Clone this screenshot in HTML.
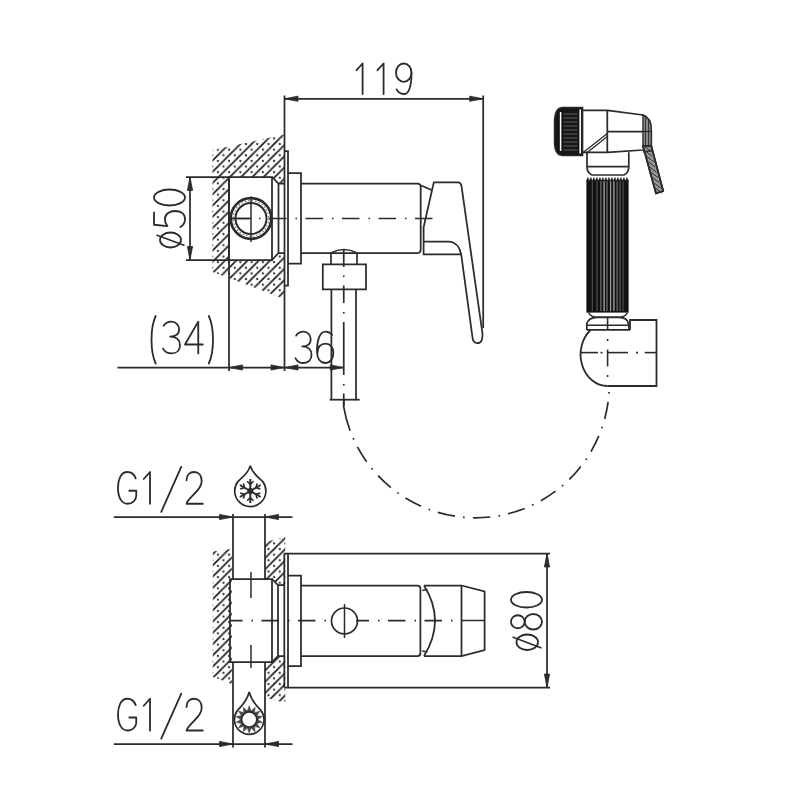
<!DOCTYPE html>
<html><head><meta charset="utf-8"><style>
html,body{margin:0;padding:0;background:#fff;width:800px;height:800px;overflow:hidden;font-family:"Liberation Sans",sans-serif;}
svg{display:block}
</style></head><body>
<svg width="800" height="800" viewBox="0 0 800 800">
<rect width="800" height="800" fill="#fff"/>

<defs>
 <pattern id="hl" patternUnits="userSpaceOnUse" width="11.25" height="11.25" patternTransform="translate(9.75,9)">
   <path d="M-1,6.625 L6.625,-1 M4.625,12.25 L12.25,4.625" stroke="#222" stroke-width="1.8"/>
 </pattern>
 <pattern id="dt" patternUnits="userSpaceOnUse" width="11.25" height="11.25" patternTransform="translate(9.75,9)">
   <circle cx="0" cy="0" r="1.15" fill="#3a3a3a"/>
   <circle cx="11.25" cy="0" r="1.15" fill="#3a3a3a"/>
   <circle cx="0" cy="11.25" r="1.15" fill="#3a3a3a"/>
   <circle cx="11.25" cy="11.25" r="1.15" fill="#3a3a3a"/>
   <circle cx="5.625" cy="5.625" r="1.15" fill="#3a3a3a"/>
 </pattern>
</defs>

<clipPath id="c1"><path d="M212.50,150.00 L284.50,134.50 L284.50,183.50 L278.50,183.50 L272.00,177.00 L229.00,177.00 L229.00,260.00 L272.00,260.00 L278.50,253.00 L284.50,253.00 L284.50,299.00 L212.50,272.00 Z" clip-rule="evenodd"/></clipPath>
<g clip-path="url(#c1)"><rect x="0" y="0" width="800" height="800" fill="url(#hl)"/><rect x="0" y="0" width="800" height="800" fill="url(#dt)"/></g>
<line x1="284.5" y1="95.5" x2="284.5" y2="371" stroke="#2b2b2b" stroke-width="1.75" />
<line x1="483.2" y1="95.5" x2="483.2" y2="328" stroke="#2b2b2b" stroke-width="1.75" />
<line x1="284.5" y1="98.75" x2="483.2" y2="98.75" stroke="#2b2b2b" stroke-width="1.75" />
<path d="M284.50,98.75 L298.00,96.15 L298.00,101.35 Z" fill="#2b2b2b" stroke="#2b2b2b" stroke-width="0.8"/>
<path d="M483.20,98.75 L469.70,96.15 L469.70,101.35 Z" fill="#2b2b2b" stroke="#2b2b2b" stroke-width="0.8"/>
<path d="M229.00,177.00 L272.00,177.00 L272.00,260.00 L229.00,260.00 Z" stroke="#2b2b2b" stroke-width="1.75" fill="none" />
<path d="M272.00,177.00 L278.50,183.50 L284.50,183.50" stroke="#2b2b2b" stroke-width="1.75" fill="none" />
<path d="M272.00,260.00 L278.50,253.00 L284.50,253.00" stroke="#2b2b2b" stroke-width="1.75" fill="none" />
<line x1="278.5" y1="183.5" x2="278.5" y2="253" stroke="#2b2b2b" stroke-width="1.75" />
<line x1="229" y1="177" x2="229" y2="371" stroke="#2b2b2b" stroke-width="1.75" />
<line x1="186" y1="177" x2="229" y2="177" stroke="#2b2b2b" stroke-width="1.75" />
<line x1="186" y1="260" x2="229" y2="260" stroke="#2b2b2b" stroke-width="1.75" />
<line x1="190" y1="177" x2="190" y2="260" stroke="#2b2b2b" stroke-width="1.75" />
<path d="M190.00,177.00 L187.40,190.50 L192.60,190.50 Z" fill="#2b2b2b" stroke="#2b2b2b" stroke-width="0.8"/>
<path d="M190.00,260.00 L187.40,246.50 L192.60,246.50 Z" fill="#2b2b2b" stroke="#2b2b2b" stroke-width="0.8"/>
<path d="M284.50,151.00 L288.00,151.00 L288.00,285.50 L284.50,285.50" stroke="#2b2b2b" stroke-width="1.75" fill="none" />
<path d="M288.00,173.00 L301.00,173.00 L301.00,263.50 L288.00,263.50" stroke="#2b2b2b" stroke-width="1.75" fill="none" />
<path d="M301,183.5 L417.5,183.5 Q420.7,183.5 420.7,186.7 L420.7,249.8 Q420.7,253 417.5,253 L301,253" stroke="#2b2b2b" stroke-width="1.75" fill="none" />
<path d="M421.2,185.5 L431.5,190" stroke="#2b2b2b" stroke-width="1.75" fill="none" />
<path d="M433.8,182.4 L457.8,182.4 Q460.8,182.4 461.4,185.5 L482.4,333 Q483.2,343 477.5,343.2 Q472.8,343.2 472.3,336 L461.2,254.4 L423.6,254.4 L423.6,227.4 L433.8,182.4 Z" stroke="#2b2b2b" stroke-width="1.75" fill="none" />
<path d="M424,241.5 L448.5,241.5 Q458.5,242 461.2,254.4" stroke="#2b2b2b" stroke-width="1.75" fill="none" />
<circle cx="251" cy="218.5" r="20.3" stroke="#2b2b2b" stroke-width="2.7" fill="none"/>
<circle cx="251" cy="218.5" r="17.8" stroke="#666" stroke-width="1.1" fill="none" stroke-dasharray="1.5 2"/>
<circle cx="251" cy="218.5" r="15.5" stroke="#2b2b2b" stroke-width="2.0" fill="none"/>
<line x1="251" y1="196.5" x2="251" y2="242" stroke="#2b2b2b" stroke-width="1.5" />
<line x1="229" y1="218.5" x2="251" y2="218.5" stroke="#2b2b2b" stroke-width="1.5" />
<path d="M232.5,218.5 L434,218.5" stroke="#2b2b2b" stroke-width="1.7" fill="none" stroke-dasharray="17.5 9 1.5 8.5"/>
<path d="M331,253 L331,264.4 M357,253 L357,264.4" stroke="#2b2b2b" stroke-width="1.7" fill="none" />
<path d="M331,253 Q344,246 357,253" stroke="#2b2b2b" stroke-width="1.7" fill="none" />
<path d="M322.80,264.40 L366.00,264.40 L366.00,289.40 L322.80,289.40 Z" stroke="#2b2b2b" stroke-width="1.75" fill="none" />
<line x1="331.4" y1="289.4" x2="331.4" y2="399.7" stroke="#2b2b2b" stroke-width="1.75" />
<line x1="356" y1="289.4" x2="356" y2="399.7" stroke="#2b2b2b" stroke-width="1.75" />
<line x1="329.7" y1="399.7" x2="359.7" y2="399.7" stroke="#2b2b2b" stroke-width="1.75" />
<line x1="343.75" y1="249" x2="343.75" y2="267" stroke="#2b2b2b" stroke-width="1.7" />
<line x1="343.75" y1="275.5" x2="343.75" y2="277" stroke="#2b2b2b" stroke-width="1.7" />
<line x1="343.75" y1="285.5" x2="343.75" y2="303" stroke="#2b2b2b" stroke-width="1.7" />
<line x1="343.75" y1="312" x2="343.75" y2="313.5" stroke="#2b2b2b" stroke-width="1.7" />
<line x1="343.75" y1="322" x2="343.75" y2="375" stroke="#2b2b2b" stroke-width="1.7" />
<line x1="343.75" y1="384" x2="343.75" y2="385.5" stroke="#2b2b2b" stroke-width="1.7" />
<line x1="343.75" y1="393.5" x2="343.75" y2="406" stroke="#2b2b2b" stroke-width="1.7" />
<line x1="117.5" y1="367.5" x2="343.75" y2="367.5" stroke="#2b2b2b" stroke-width="1.75" />
<path d="M229.00,367.50 L242.50,364.90 L242.50,370.10 Z" fill="#2b2b2b" stroke="#2b2b2b" stroke-width="0.8"/>
<path d="M284.50,367.50 L271.00,364.90 L271.00,370.10 Z" fill="#2b2b2b" stroke="#2b2b2b" stroke-width="0.8"/>
<path d="M284.50,367.50 L298.00,364.90 L298.00,370.10 Z" fill="#2b2b2b" stroke="#2b2b2b" stroke-width="0.8"/>
<path d="M343.75,367.50 L330.25,364.90 L330.25,370.10 Z" fill="#2b2b2b" stroke="#2b2b2b" stroke-width="0.8"/>
<path d="M343.46,405.62 A133.8,133.8 0 0 0 350.12,430.71" stroke="#2b2b2b" stroke-width="1.7" fill="none" />
<path d="M353.13,438.12 A133.8,133.8 0 0 0 353.79,439.58" stroke="#2b2b2b" stroke-width="1.7" fill="none" />
<path d="M357.42,446.93 A133.8,133.8 0 0 0 366.64,461.79" stroke="#2b2b2b" stroke-width="1.7" fill="none" />
<path d="M371.61,468.31 A133.8,133.8 0 0 0 372.62,469.55" stroke="#2b2b2b" stroke-width="1.7" fill="none" />
<path d="M378.06,475.69 A133.8,133.8 0 0 0 390.85,487.62" stroke="#2b2b2b" stroke-width="1.7" fill="none" />
<path d="M397.35,492.61 A133.8,133.8 0 0 0 398.66,493.53" stroke="#2b2b2b" stroke-width="1.7" fill="none" />
<path d="M405.51,498.03 A133.8,133.8 0 0 0 420.98,506.19" stroke="#2b2b2b" stroke-width="1.7" fill="none" />
<path d="M428.57,509.30 A133.8,133.8 0 0 0 430.07,509.85" stroke="#2b2b2b" stroke-width="1.7" fill="none" />
<path d="M437.86,512.40 A133.8,133.8 0 0 0 454.93,516.21" stroke="#2b2b2b" stroke-width="1.7" fill="none" />
<path d="M463.06,517.22 A133.8,133.8 0 0 0 464.66,517.36" stroke="#2b2b2b" stroke-width="1.7" fill="none" />
<path d="M472.85,517.77 A133.8,133.8 0 0 0 490.31,516.98" stroke="#2b2b2b" stroke-width="1.7" fill="none" />
<path d="M498.43,515.82 A133.8,133.8 0 0 0 500.01,515.54" stroke="#2b2b2b" stroke-width="1.7" fill="none" />
<path d="M508.02,513.79 A133.8,133.8 0 0 0 524.67,508.44" stroke="#2b2b2b" stroke-width="1.7" fill="none" />
<path d="M532.19,505.19 A133.8,133.8 0 0 0 533.64,504.51" stroke="#2b2b2b" stroke-width="1.7" fill="none" />
<path d="M540.91,500.72 A133.8,133.8 0 0 0 555.58,491.19" stroke="#2b2b2b" stroke-width="1.7" fill="none" />
<path d="M561.99,486.09 A133.8,133.8 0 0 0 563.21,485.05" stroke="#2b2b2b" stroke-width="1.7" fill="none" />
<path d="M569.23,479.48 A133.8,133.8 0 0 0 580.88,466.44" stroke="#2b2b2b" stroke-width="1.7" fill="none" />
<path d="M585.73,459.84 A133.8,133.8 0 0 0 586.63,458.51" stroke="#2b2b2b" stroke-width="1.7" fill="none" />
<path d="M590.99,451.57 A133.8,133.8 0 0 0 598.81,435.93" stroke="#2b2b2b" stroke-width="1.7" fill="none" />
<path d="M601.76,428.28 A133.8,133.8 0 0 0 602.28,426.76" stroke="#2b2b2b" stroke-width="1.7" fill="none" />
<path d="M604.66,418.92 A133.8,133.8 0 0 0 608.11,401.77" stroke="#2b2b2b" stroke-width="1.7" fill="none" />
<path d="M608.95,393.62 A133.8,133.8 0 0 0 609.06,392.02" stroke="#2b2b2b" stroke-width="1.7" fill="none" />
<line x1="343.75" y1="399.7" x2="343.75" y2="406" stroke="#2b2b2b" stroke-width="1.7" />
<path d="M582.6,107.5 L562,107.5 Q555,108 554.5,120 L554.5,143 Q555,155 562,155.4 L582.6,155.4 Z" stroke="#2b2b2b" stroke-width="1.5" fill="#161616" />
<line x1="563.5" y1="114.0" x2="577.5" y2="114.0" stroke="#6a6a6a" stroke-width="0.9" />
<line x1="563.5" y1="118.0" x2="577.5" y2="118.0" stroke="#6a6a6a" stroke-width="0.9" />
<line x1="563.5" y1="122.0" x2="577.5" y2="122.0" stroke="#6a6a6a" stroke-width="0.9" />
<line x1="563.5" y1="126.0" x2="577.5" y2="126.0" stroke="#6a6a6a" stroke-width="0.9" />
<line x1="563.5" y1="130.0" x2="577.5" y2="130.0" stroke="#6a6a6a" stroke-width="0.9" />
<line x1="563.5" y1="134.0" x2="577.5" y2="134.0" stroke="#6a6a6a" stroke-width="0.9" />
<line x1="563.5" y1="138.0" x2="577.5" y2="138.0" stroke="#6a6a6a" stroke-width="0.9" />
<line x1="563.5" y1="142.0" x2="577.5" y2="142.0" stroke="#6a6a6a" stroke-width="0.9" />
<line x1="563.5" y1="146.0" x2="577.5" y2="146.0" stroke="#6a6a6a" stroke-width="0.9" />
<line x1="563.5" y1="150.0" x2="577.5" y2="150.0" stroke="#6a6a6a" stroke-width="0.9" />
<line x1="560.6" y1="112" x2="560.6" y2="151" stroke="#ffffff" stroke-width="1.5" />
<line x1="580.2" y1="109.5" x2="580.2" y2="153.5" stroke="#ffffff" stroke-width="1.6" />
<path d="M582.6,110.3 L607.5,110.3 L643,115 Q651.3,118 651.3,130 L651.3,146 L643,150 L607.5,152.3 L582.6,152.3" stroke="#2b2b2b" stroke-width="1.7" fill="none" />
<line x1="607.3" y1="110.3" x2="607.3" y2="152.3" stroke="#2b2b2b" stroke-width="1.75" />
<line x1="607.3" y1="131.5" x2="651.3" y2="131.5" stroke="#2b2b2b" stroke-width="1.75" />
<path d="M583.5,152.3 L607.3,133.5 M586,153.5 L607.3,136.5" stroke="#2b2b2b" stroke-width="1.3" fill="none" />
<path d="M643,115 Q651.3,118 651.3,130 L651.3,146 L643,146 Z" stroke="#2b2b2b" stroke-width="1.4" fill="#8a8a8a" />
<line x1="645.5" y1="117" x2="645.5" y2="146" stroke="#333" stroke-width="1.0" />
<line x1="648.5" y1="119" x2="648.5" y2="146" stroke="#333" stroke-width="1.0" />
<line x1="643" y1="131.5" x2="651.3" y2="131.5" stroke="#2b2b2b" stroke-width="1.4" />
<path d="M643,146 L651.3,146 L663.2,191 L656,193.5 Z" stroke="#2b2b2b" stroke-width="1.7" fill="#9a9a9a" />
<line x1="644.2222222222222" y1="146.13888888888889" x2="650.7222222222222" y2="151.13888888888889" stroke="#2a2a2a" stroke-width="1.0" />
<line x1="645.6666666666666" y1="151.41666666666666" x2="652.1666666666666" y2="156.41666666666666" stroke="#2a2a2a" stroke-width="1.0" />
<line x1="647.1111111111111" y1="156.69444444444446" x2="653.6111111111111" y2="161.69444444444446" stroke="#2a2a2a" stroke-width="1.0" />
<line x1="648.5555555555555" y1="161.97222222222223" x2="655.0555555555555" y2="166.97222222222223" stroke="#2a2a2a" stroke-width="1.0" />
<line x1="650.0" y1="167.25" x2="656.5" y2="172.25" stroke="#2a2a2a" stroke-width="1.0" />
<line x1="651.4444444444445" y1="172.52777777777777" x2="657.9444444444445" y2="177.52777777777777" stroke="#2a2a2a" stroke-width="1.0" />
<line x1="652.8888888888889" y1="177.80555555555554" x2="659.3888888888889" y2="182.80555555555554" stroke="#2a2a2a" stroke-width="1.0" />
<line x1="654.3333333333334" y1="183.08333333333334" x2="660.8333333333334" y2="188.08333333333334" stroke="#2a2a2a" stroke-width="1.0" />
<line x1="655.7777777777778" y1="188.36111111111111" x2="662.2777777777778" y2="193.36111111111111" stroke="#2a2a2a" stroke-width="1.0" />
<path d="M643,146 L651.3,146 L663.2,191 L656,193.5 Z" stroke="#2b2b2b" stroke-width="1.7" fill="none" />
<path d="M643,152 L652.5,150.5" stroke="#2b2b2b" stroke-width="1.3" fill="none" />
<path d="M587,152.3 L587,166.5 Q587,173 592,175 L624,175 Q628.8,173 628.8,166.5 L628.8,152.3" stroke="#2b2b2b" stroke-width="1.7" fill="none" />
<line x1="587" y1="166.5" x2="628.8" y2="166.5" stroke="#2b2b2b" stroke-width="1.75" />
<rect x="586.4" y="180" width="42.2" height="132.6" fill="#111"/>
<line x1="592.4" y1="180" x2="592.4" y2="311" stroke="#474747" stroke-width="1.3" />
<line x1="597" y1="180" x2="597" y2="311" stroke="#4d4d4d" stroke-width="1.3" />
<line x1="600.9" y1="180" x2="600.9" y2="311" stroke="#6a6a6a" stroke-width="1.3" />
<line x1="604.1" y1="180" x2="604.1" y2="311" stroke="#aaaaaa" stroke-width="1.3" />
<line x1="607" y1="180" x2="607" y2="311" stroke="#6a6a6a" stroke-width="1.3" />
<line x1="610.6" y1="180" x2="610.6" y2="311" stroke="#9a9a9a" stroke-width="1.3" />
<line x1="613.9" y1="180" x2="613.9" y2="311" stroke="#aaaaaa" stroke-width="1.3" />
<line x1="617.1" y1="180" x2="617.1" y2="311" stroke="#6a6a6a" stroke-width="1.3" />
<line x1="620" y1="180" x2="620" y2="311" stroke="#585858" stroke-width="1.3" />
<line x1="623" y1="180" x2="623" y2="311" stroke="#474747" stroke-width="1.3" />
<path d="M586.4,181 L587.9,177.5 L589.4,181 L590.9,177.5 L592.4,181 L593.9,177.5 L595.4,181 L596.9,177.5 L598.4,181 L599.9,177.5 L601.4,181 L602.9,177.5 L604.4,181 L605.9,177.5 L607.4,181 L608.9,177.5 L610.4,181 L611.9,177.5 L613.4,181 L614.9,177.5 L616.4,181 L617.9,177.5 L619.4,181 L620.9,177.5 L622.4,181 L623.9,177.5 L625.4,181 L626.9,177.5 L628.4,181 Z" stroke="#2b2b2b" stroke-width="0.6" fill="#141414" />
<path d="M588.5,312.5 Q591,317.3 597,317.3 L619,317.3 Q625,317.3 627.5,312.5" stroke="#2b2b2b" stroke-width="1.6" fill="none" />
<path d="M586.8,330 L586.8,323.5 Q588.5,317.5 597,317.3 L619,317.3 Q627.5,317.5 628.5,323.5 L629,330" stroke="#2b2b2b" stroke-width="1.7" fill="none" />
<line x1="586.8" y1="325.3" x2="629" y2="325.3" stroke="#2b2b2b" stroke-width="1.5" />
<line x1="586.8" y1="329.9" x2="630" y2="329.9" stroke="#2b2b2b" stroke-width="1.8" />
<path d="M630.00,330.00 L630.00,320.00 L656.50,320.00 L656.50,386.00 L607.60,386.00" stroke="#2b2b2b" stroke-width="1.8" fill="none" />
<path d="M590.6,330 A27,31.5 0 0 0 607.6,386" stroke="#2b2b2b" stroke-width="1.8" fill="none" />
<line x1="581" y1="352.6" x2="598" y2="352.6" stroke="#2b2b2b" stroke-width="1.6" />
<line x1="600.5" y1="352.6" x2="602.5" y2="352.6" stroke="#2b2b2b" stroke-width="1.6" />
<line x1="608" y1="352.6" x2="628" y2="352.6" stroke="#2b2b2b" stroke-width="1.6" />
<line x1="636" y1="352.6" x2="638" y2="352.6" stroke="#2b2b2b" stroke-width="1.6" />
<line x1="644.75" y1="352.6" x2="656.5" y2="352.6" stroke="#2b2b2b" stroke-width="1.6" />
<line x1="607.6" y1="317" x2="607.6" y2="330" stroke="#2b2b2b" stroke-width="1.6" />
<line x1="607.6" y1="339" x2="607.6" y2="341" stroke="#2b2b2b" stroke-width="1.6" />
<line x1="607.6" y1="349.5" x2="607.6" y2="366.4" stroke="#2b2b2b" stroke-width="1.6" />
<line x1="607.6" y1="375" x2="607.6" y2="377" stroke="#2b2b2b" stroke-width="1.6" />
<path d="M 356.50 70.21 L 362.59 63.50 L 362.59 94.00" stroke="#2b2b2b" stroke-width="1.8" fill="none" stroke-linecap="round" stroke-linejoin="round"/>
<path d="M 377.50 70.21 L 383.59 63.50 L 383.59 94.00" stroke="#2b2b2b" stroke-width="1.8" fill="none" stroke-linecap="round" stroke-linejoin="round"/>
<ellipse cx="403.75" cy="72.65" rx="7.75" ry="9.15" stroke="#2b2b2b" stroke-width="1.8" fill="none"/>
<path d="M 411.50 72.65 C 411.50 85.46 409.95 94.00 403.75 94.00 C 400.65 94.00 397.86 91.87 396.62 89.42" stroke="#2b2b2b" stroke-width="1.8" fill="none" stroke-linecap="round" stroke-linejoin="round"/>
<path d="M 155.70 316.00 C 150.10 327.88 150.10 351.62 155.70 363.50" stroke="#2b2b2b" stroke-width="1.8" fill="none" stroke-linecap="round" stroke-linejoin="round"/>
<path d="M 163.68 325.73 C 165.55 322.55 168.10 321.60 171.50 321.60 C 176.26 321.60 179.15 325.42 179.15 329.55 C 179.15 334.00 175.75 336.55 170.14 336.55 C 176.60 336.55 180.00 340.04 180.00 345.13 C 180.00 350.22 176.60 353.40 171.50 353.40 C 167.76 353.40 164.70 351.81 163.00 348.63" stroke="#2b2b2b" stroke-width="1.8" fill="none" stroke-linecap="round" stroke-linejoin="round"/>
<path d="M 198.26 353.40 L 198.26 321.60 L 185.00 344.50 L 202.85 344.50" stroke="#2b2b2b" stroke-width="1.8" fill="none" stroke-linecap="round" stroke-linejoin="round"/>
<path d="M 208.80 316.00 C 214.40 327.88 214.40 351.62 208.80 363.50" stroke="#2b2b2b" stroke-width="1.8" fill="none" stroke-linecap="round" stroke-linejoin="round"/>
<path d="M 296.14 335.68 C 297.90 332.54 300.30 331.60 303.50 331.60 C 307.98 331.60 310.70 335.37 310.70 339.45 C 310.70 343.85 307.50 346.36 302.22 346.36 C 308.30 346.36 311.50 349.81 311.50 354.84 C 311.50 359.86 308.30 363.00 303.50 363.00 C 299.98 363.00 297.10 361.43 295.50 358.29" stroke="#2b2b2b" stroke-width="1.8" fill="none" stroke-linecap="round" stroke-linejoin="round"/>
<path d="M 332.09 334.74 C 330.12 332.54 327.82 331.60 325.53 331.60 C 319.46 331.60 317.00 341.02 317.00 350.44 C 317.00 358.60 320.28 363.00 325.20 363.00 C 330.12 363.00 333.40 358.60 333.40 352.95 C 333.40 347.30 330.12 343.53 325.53 343.53 C 320.61 343.53 317.33 347.30 317.33 352.95" stroke="#2b2b2b" stroke-width="1.8" fill="none" stroke-linecap="round" stroke-linejoin="round"/>
<g transform="rotate(-90)">
<ellipse cx="-197.50" cy="169.50" rx="8.00" ry="15.50" stroke="#2b2b2b" stroke-width="1.8" fill="none"/>
<path d="M -212.28 154.00 L -224.76 154.00 L -226.04 167.33 C -223.80 165.47 -221.40 164.85 -219.00 164.85 C -214.20 164.85 -211.00 169.50 -211.00 175.08 C -211.00 181.28 -214.20 185.00 -219.00 185.00 C -222.52 185.00 -225.40 183.45 -227.00 180.35" stroke="#2b2b2b" stroke-width="1.8" fill="none" stroke-linecap="round" stroke-linejoin="round"/>
<ellipse cx="-240.00" cy="170.50" rx="7.50" ry="10.50" stroke="#2b2b2b" stroke-width="1.8" fill="none"/>
<line x1="-245.5" y1="184.5" x2="-235" y2="156.5" stroke="#2b2b2b" stroke-width="1.5" />
</g>
<clipPath id="c2"><path d="M212.80,551.50 L231.80,549.00 L231.80,684.00 L212.80,677.00 Z" clip-rule="evenodd"/></clipPath>
<g clip-path="url(#c2)"><rect x="0" y="0" width="800" height="800" fill="url(#hl)"/><rect x="0" y="0" width="800" height="800" fill="url(#dt)"/></g>
<clipPath id="c3"><path d="M265.00,542.00 L285.30,537.00 L285.30,585.00 L278.00,585.00 L272.00,579.00 L265.00,579.00 Z" clip-rule="evenodd"/></clipPath>
<g clip-path="url(#c3)"><rect x="0" y="0" width="800" height="800" fill="url(#hl)"/><rect x="0" y="0" width="800" height="800" fill="url(#dt)"/></g>
<clipPath id="c4"><path d="M265.00,662.00 L272.00,662.00 L278.00,656.00 L285.30,656.00 L285.30,703.00 L265.00,697.50 Z" clip-rule="evenodd"/></clipPath>
<g clip-path="url(#c4)"><rect x="0" y="0" width="800" height="800" fill="url(#hl)"/><rect x="0" y="0" width="800" height="800" fill="url(#dt)"/></g>
<line x1="113.75" y1="517" x2="292.5" y2="517" stroke="#2b2b2b" stroke-width="1.75" />
<path d="M233.00,517.00 L219.50,514.40 L219.50,519.60 Z" fill="#2b2b2b" stroke="#2b2b2b" stroke-width="0.8"/>
<path d="M265.00,517.00 L278.50,514.40 L278.50,519.60 Z" fill="#2b2b2b" stroke="#2b2b2b" stroke-width="0.8"/>
<line x1="233" y1="514" x2="233" y2="579" stroke="#2b2b2b" stroke-width="1.75" />
<line x1="265" y1="514" x2="265" y2="579" stroke="#2b2b2b" stroke-width="1.75" />
<line x1="233" y1="662" x2="233" y2="747.5" stroke="#2b2b2b" stroke-width="1.75" />
<line x1="265" y1="662" x2="265" y2="747.5" stroke="#2b2b2b" stroke-width="1.75" />
<path d="M230.00,579.00 L272.00,579.00 L272.00,662.00 L230.00,662.00 Z" stroke="#2b2b2b" stroke-width="1.75" fill="none" />
<path d="M272.00,579.00 L278.00,585.00 L284.00,585.00" stroke="#2b2b2b" stroke-width="1.75" fill="none" />
<path d="M272.00,662.00 L278.00,656.00 L284.00,656.00" stroke="#2b2b2b" stroke-width="1.75" fill="none" />
<line x1="278" y1="585" x2="278" y2="656" stroke="#2b2b2b" stroke-width="1.75" />
<line x1="251" y1="572" x2="251" y2="598" stroke="#2b2b2b" stroke-width="1.5" />
<line x1="251" y1="645" x2="251" y2="668" stroke="#2b2b2b" stroke-width="1.5" />
<path d="M284.30,553.50 L550.00,553.50" stroke="#2b2b2b" stroke-width="1.75" fill="none" />
<path d="M284.30,687.50 L550.00,687.50" stroke="#2b2b2b" stroke-width="1.75" fill="none" />
<line x1="284.3" y1="553.5" x2="284.3" y2="687.5" stroke="#2b2b2b" stroke-width="1.75" />
<line x1="288" y1="553.5" x2="288" y2="687.5" stroke="#2b2b2b" stroke-width="1.75" />
<path d="M288.00,575.60 L301.00,575.60 L301.00,666.00 L288.00,666.00" stroke="#2b2b2b" stroke-width="1.75" fill="none" />
<path d="M301,585.5 L417.4,585.5 Q420.4,585.5 420.4,588.5 L420.4,653 Q420.4,656 417.4,656 L301,656" stroke="#2b2b2b" stroke-width="1.75" fill="none" />
<path d="M424,585.5 L461.5,585.5 L484.6,591.5 L484.6,650 L461.5,656 L424,656" stroke="#2b2b2b" stroke-width="1.75" fill="none" />
<path d="M424,585.5 Q446,620.6 424,656" stroke="#2b2b2b" stroke-width="1.75" fill="none" />
<path d="M422.3,590.5 L427.5,589.5 M422.3,651 L427.5,652" stroke="#2b2b2b" stroke-width="1.5" fill="none" />
<line x1="461.5" y1="585.5" x2="461.5" y2="656" stroke="#2b2b2b" stroke-width="1.75" />
<line x1="461.5" y1="620.5" x2="484.6" y2="620.5" stroke="#2b2b2b" stroke-width="1.5" />
<circle cx="344.5" cy="621" r="13" stroke="#2b2b2b" stroke-width="1.7" fill="none"/>
<line x1="344.5" y1="604" x2="344.5" y2="638" stroke="#2b2b2b" stroke-width="1.5" />
<path d="M230,620.6 L331,620.6" stroke="#2b2b2b" stroke-width="1.7" fill="none" stroke-dasharray="17.5 9 1.5 8.5" stroke-dashoffset="5"/>
<path d="M356,620.6 L461.5,620.6" stroke="#2b2b2b" stroke-width="1.7" fill="none" stroke-dasharray="17.5 9 1.5 8.5" stroke-dashoffset="4.5"/>
<line x1="547" y1="553.5" x2="547" y2="687.5" stroke="#2b2b2b" stroke-width="1.75" />
<path d="M547.00,553.50 L544.40,567.00 L549.60,567.00 Z" fill="#2b2b2b" stroke="#2b2b2b" stroke-width="0.8"/>
<path d="M547.00,687.50 L544.40,674.00 L549.60,674.00 Z" fill="#2b2b2b" stroke="#2b2b2b" stroke-width="0.8"/>
<line x1="113.75" y1="744" x2="292.5" y2="744" stroke="#2b2b2b" stroke-width="1.75" />
<path d="M233.00,744.00 L219.50,741.40 L219.50,746.60 Z" fill="#2b2b2b" stroke="#2b2b2b" stroke-width="0.8"/>
<path d="M265.00,744.00 L278.50,741.40 L278.50,746.60 Z" fill="#2b2b2b" stroke="#2b2b2b" stroke-width="0.8"/>
<path d="M 135.70 478.35 C 134.06 473.90 131.14 472.00 127.49 472.00 C 120.74 472.00 118.00 479.94 118.00 487.88 C 118.00 497.40 121.65 503.75 127.49 503.75 C 132.60 503.75 136.25 499.94 136.25 495.81 L 136.25 490.73 L 129.31 490.73" stroke="#2b2b2b" stroke-width="1.8" fill="none" stroke-linecap="round" stroke-linejoin="round"/>
<path d="M 143.75 478.99 L 150.01 472.00 L 150.01 503.75" stroke="#2b2b2b" stroke-width="1.8" fill="none" stroke-linecap="round" stroke-linejoin="round"/>
<path d="M 161.25 511.90 L 181.25 466.90" stroke="#2b2b2b" stroke-width="1.8" fill="none" stroke-linecap="round" stroke-linejoin="round"/>
<path d="M 186.56 480.25 C 186.56 474.54 190.19 472.00 194.12 472.00 C 198.53 472.00 201.69 475.18 201.69 480.89 C 201.69 486.29 198.06 489.78 193.34 494.86 C 189.40 498.99 186.56 501.53 186.56 503.75 L 202.79 503.75" stroke="#2b2b2b" stroke-width="1.8" fill="none" stroke-linecap="round" stroke-linejoin="round"/>
<path d="M 135.70 705.10 C 134.06 700.65 131.14 698.75 127.49 698.75 C 120.74 698.75 118.00 706.69 118.00 714.62 C 118.00 724.15 121.65 730.50 127.49 730.50 C 132.60 730.50 136.25 726.69 136.25 722.56 L 136.25 717.48 L 129.31 717.48" stroke="#2b2b2b" stroke-width="1.8" fill="none" stroke-linecap="round" stroke-linejoin="round"/>
<path d="M 143.75 705.74 L 150.01 698.75 L 150.01 730.50" stroke="#2b2b2b" stroke-width="1.8" fill="none" stroke-linecap="round" stroke-linejoin="round"/>
<path d="M 161.25 738.65 L 181.25 693.65" stroke="#2b2b2b" stroke-width="1.8" fill="none" stroke-linecap="round" stroke-linejoin="round"/>
<path d="M 186.56 707.00 C 186.56 701.29 190.19 698.75 194.12 698.75 C 198.53 698.75 201.69 701.92 201.69 707.64 C 201.69 713.04 198.06 716.53 193.34 721.61 C 189.40 725.74 186.56 728.28 186.56 730.50 L 202.79 730.50" stroke="#2b2b2b" stroke-width="1.8" fill="none" stroke-linecap="round" stroke-linejoin="round"/>
<g transform="rotate(-90)">
<ellipse cx="-599.75" cy="526.50" rx="7.75" ry="15.50" stroke="#2b2b2b" stroke-width="1.8" fill="none"/>
<ellipse cx="-621.75" cy="517.82" rx="6.51" ry="6.82" stroke="#2b2b2b" stroke-width="1.8" fill="none"/>
<ellipse cx="-621.75" cy="533.32" rx="7.75" ry="8.68" stroke="#2b2b2b" stroke-width="1.8" fill="none"/>
<ellipse cx="-642.25" cy="527.25" rx="7.75" ry="10.75" stroke="#2b2b2b" stroke-width="1.8" fill="none"/>
<line x1="-648" y1="541.5" x2="-637" y2="512.5" stroke="#2b2b2b" stroke-width="1.5" />
</g>
<path d="M250.3,465.6 C248.3,473.6 241.00703224373515,478.39568098491975 238.00703224373515,481.39568098491975 A15.6,15.6 0 1 0 262.5929677562649,481.39568098491975 C259.5929677562649,478.39568098491975 252.3,473.6 250.3,465.6 Z" stroke="#2b2b2b" stroke-width="1.7" fill="none" />
<line x1="250.3" y1="491" x2="250.3" y2="479.0" stroke="#2b2b2b" stroke-width="2.0" />
<line x1="250.3" y1="484.4" x2="253.48198051533947" y2="481.2180194846605" stroke="#2b2b2b" stroke-width="1.6" />
<line x1="250.3" y1="484.4" x2="247.11801948466055" y2="481.2180194846605" stroke="#2b2b2b" stroke-width="1.6" />
<line x1="250.3" y1="491" x2="239.90769515458675" y2="485.0" stroke="#2b2b2b" stroke-width="2.0" />
<line x1="244.5842323350227" y1="487.7" x2="243.41954663206135" y2="483.3533337816992" stroke="#2b2b2b" stroke-width="1.6" />
<line x1="244.5842323350227" y1="487.7" x2="240.2375661167219" y2="488.8646857029613" stroke="#2b2b2b" stroke-width="1.6" />
<line x1="250.3" y1="491" x2="239.90769515458675" y2="497.0" stroke="#2b2b2b" stroke-width="2.0" />
<line x1="244.5842323350227" y1="494.3" x2="240.2375661167219" y2="493.1353142970387" stroke="#2b2b2b" stroke-width="1.6" />
<line x1="244.5842323350227" y1="494.3" x2="243.41954663206135" y2="498.6466662183008" stroke="#2b2b2b" stroke-width="1.6" />
<line x1="250.3" y1="491" x2="250.3" y2="503.0" stroke="#2b2b2b" stroke-width="2.0" />
<line x1="250.3" y1="497.6" x2="247.11801948466055" y2="500.7819805153395" stroke="#2b2b2b" stroke-width="1.6" />
<line x1="250.3" y1="497.6" x2="253.48198051533947" y2="500.7819805153395" stroke="#2b2b2b" stroke-width="1.6" />
<line x1="250.3" y1="491" x2="260.6923048454133" y2="497.0" stroke="#2b2b2b" stroke-width="2.0" />
<line x1="256.0157676649773" y1="494.3" x2="257.18045336793864" y2="498.6466662183008" stroke="#2b2b2b" stroke-width="1.6" />
<line x1="256.0157676649773" y1="494.3" x2="260.36243388327813" y2="493.1353142970387" stroke="#2b2b2b" stroke-width="1.6" />
<line x1="250.3" y1="491" x2="260.6923048454133" y2="485.0" stroke="#2b2b2b" stroke-width="2.0" />
<line x1="256.0157676649773" y1="487.7" x2="260.36243388327813" y2="488.8646857029613" stroke="#2b2b2b" stroke-width="1.6" />
<line x1="256.0157676649773" y1="487.7" x2="257.18045336793864" y2="483.3533337816992" stroke="#2b2b2b" stroke-width="1.6" />
<circle cx="250.3" cy="491" r="3" fill="#2b2b2b"/>
<path d="M249.2,692 C247.2,700 240.5374408466205,707.3882101651802 237.5374408466205,710.3882101651802 A14.8,14.8 0 1 0 260.8625591533795,710.3882101651802 C257.8625591533795,707.3882101651802 251.2,700 249.2,692 Z" stroke="#2b2b2b" stroke-width="1.7" fill="none" />
<circle cx="249.2" cy="719.5" r="7.2" stroke="#2b2b2b" stroke-width="1.6" fill="none"/>
<path d="M249.20,705.90 L247.29,711.12 L243.30,707.25 L243.84,712.78 L238.57,711.02 L241.45,715.77 L235.94,716.47 L240.60,719.50 L235.94,722.53 L241.45,723.23 L238.57,727.98 L243.84,726.22 L243.30,731.75 L247.29,727.88 L249.20,733.10 L251.11,727.88 L255.10,731.75 L254.56,726.22 L259.83,727.98 L256.95,723.23 L262.46,722.53 L257.80,719.50 L262.46,716.47 L256.95,715.77 L259.83,711.02 L254.56,712.78 L255.10,707.25 L251.11,711.12 Z" stroke="#4a4a4a" stroke-width="0.6" fill="#4a4a4a" />
<circle cx="249.2" cy="719.5" r="7.6" stroke="#2b2b2b" stroke-width="1.6" fill="#fff"/>
</svg>
</body></html>
